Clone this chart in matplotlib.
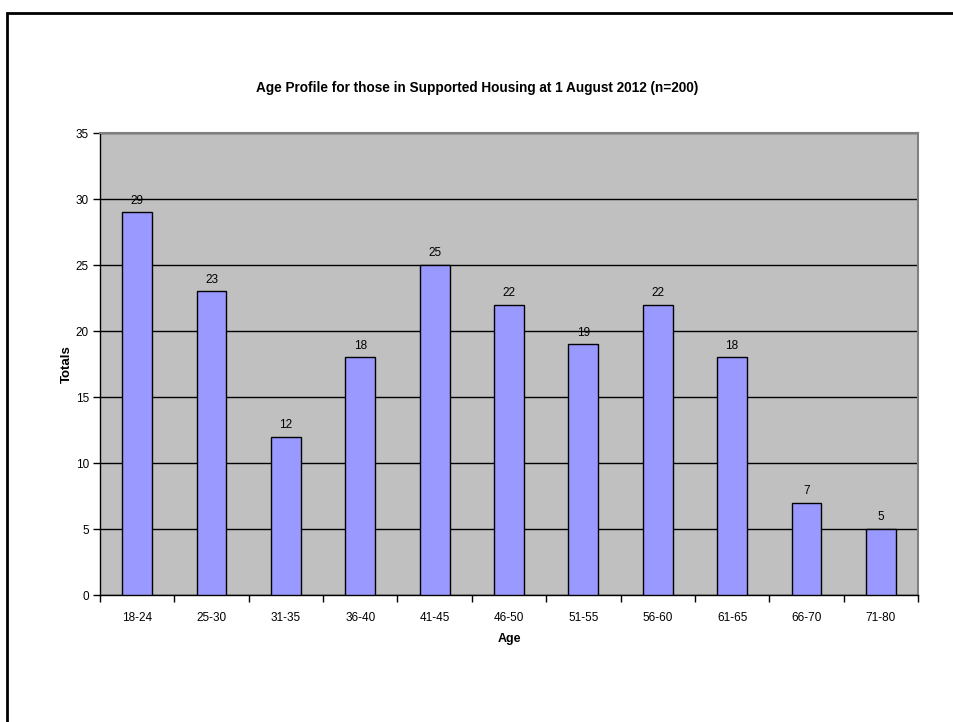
import matplotlib.pyplot as plt
from matplotlib.patches import Rectangle

# -----------------------------
# Data
# -----------------------------
AGE_BANDS = ["18-24", "25-30", "31-35", "36-40", "41-45", "46-50",
             "51-55", "56-60", "61-65", "66-70", "71-80"]
TOTALS = [29, 23, 12, 18, 25, 22, 19, 22, 18, 7, 5]
Y_TICKS = [0, 5, 10, 15, 20, 25, 30, 35]

# -----------------------------
# Style
# -----------------------------
BAR_COLOR = "#9999FF"
PLOT_BG = "#C0C0C0"
FRAME_GRAY = "#808080"
FONT = "Liberation Sans"

plt.rcParams["font.family"] = [FONT, "DejaVu Sans"]

W, H = 954, 722
fig = plt.figure(figsize=(W / 100, H / 100), dpi=100)

# plot area in pixels: left 100, right 918, top 133, bottom 595
ax = fig.add_axes([100 / W, 1 - 595 / H, (918 - 100) / W, (595 - 133) / H])
ax.set_facecolor(PLOT_BG)

x = list(range(len(AGE_BANDS)))
ax.bar(x, TOTALS, width=0.4, color=BAR_COLOR,
       edgecolor="black", linewidth=1.0, zorder=3)

for xi, v in zip(x, TOTALS):
    ax.annotate(str(v), (xi, v), xytext=(0, 4), textcoords="offset points",
                ha="center", va="bottom", fontsize=8.5, zorder=4)

ax.set_xlim(-0.5, len(AGE_BANDS) - 0.5)
ax.set_ylim(0, 35)
ax.set_yticks(Y_TICKS)
ax.set_yticklabels([str(t) for t in Y_TICKS], fontsize=8.5)
ax.yaxis.grid(True, color="black", linewidth=1.0, zorder=1)
ax.set_axisbelow(True)

# category labels centred, tick marks at the boundaries
ax.set_xticks(x)
ax.set_xticklabels(AGE_BANDS, fontsize=8.5)
ax.tick_params(axis="x", length=0, pad=12)
ax.set_xticks([i - 0.5 for i in range(len(AGE_BANDS) + 1)], minor=True)
ax.tick_params(axis="x", which="minor", length=5, width=1, direction="out")
ax.tick_params(axis="y", length=5, width=1, direction="out", pad=3)

ax.spines["top"].set_color(FRAME_GRAY)
ax.spines["right"].set_color(FRAME_GRAY)
ax.spines["top"].set_linewidth(1.5)
ax.spines["right"].set_linewidth(1.5)
ax.spines["left"].set_color("black")
ax.spines["bottom"].set_color("black")
ax.spines["left"].set_linewidth(1.0)
ax.spines["bottom"].set_linewidth(1.0)

ax.set_xlabel("Age", fontsize=9, fontweight="bold", labelpad=7)
ax.set_ylabel("Totals", fontsize=9.5, fontweight="bold", labelpad=2)

fig.text(477 / W, 1 - 88 / H,
         "Age Profile for those in Supported Housing at 1 August 2012 (n=200)",
         ha="center", va="center", fontsize=9.8, fontweight="bold")

# outer chart border (clipped by the image on the right and bottom)
fig.patches.append(Rectangle((7 / W, -0.05), 1.1, 1 - 13 / H + 0.05,
                             transform=fig.transFigure, fill=False,
                             edgecolor="black", linewidth=2.0))

plt.savefig("out.png", dpi=100, facecolor="white")
plt.close()
